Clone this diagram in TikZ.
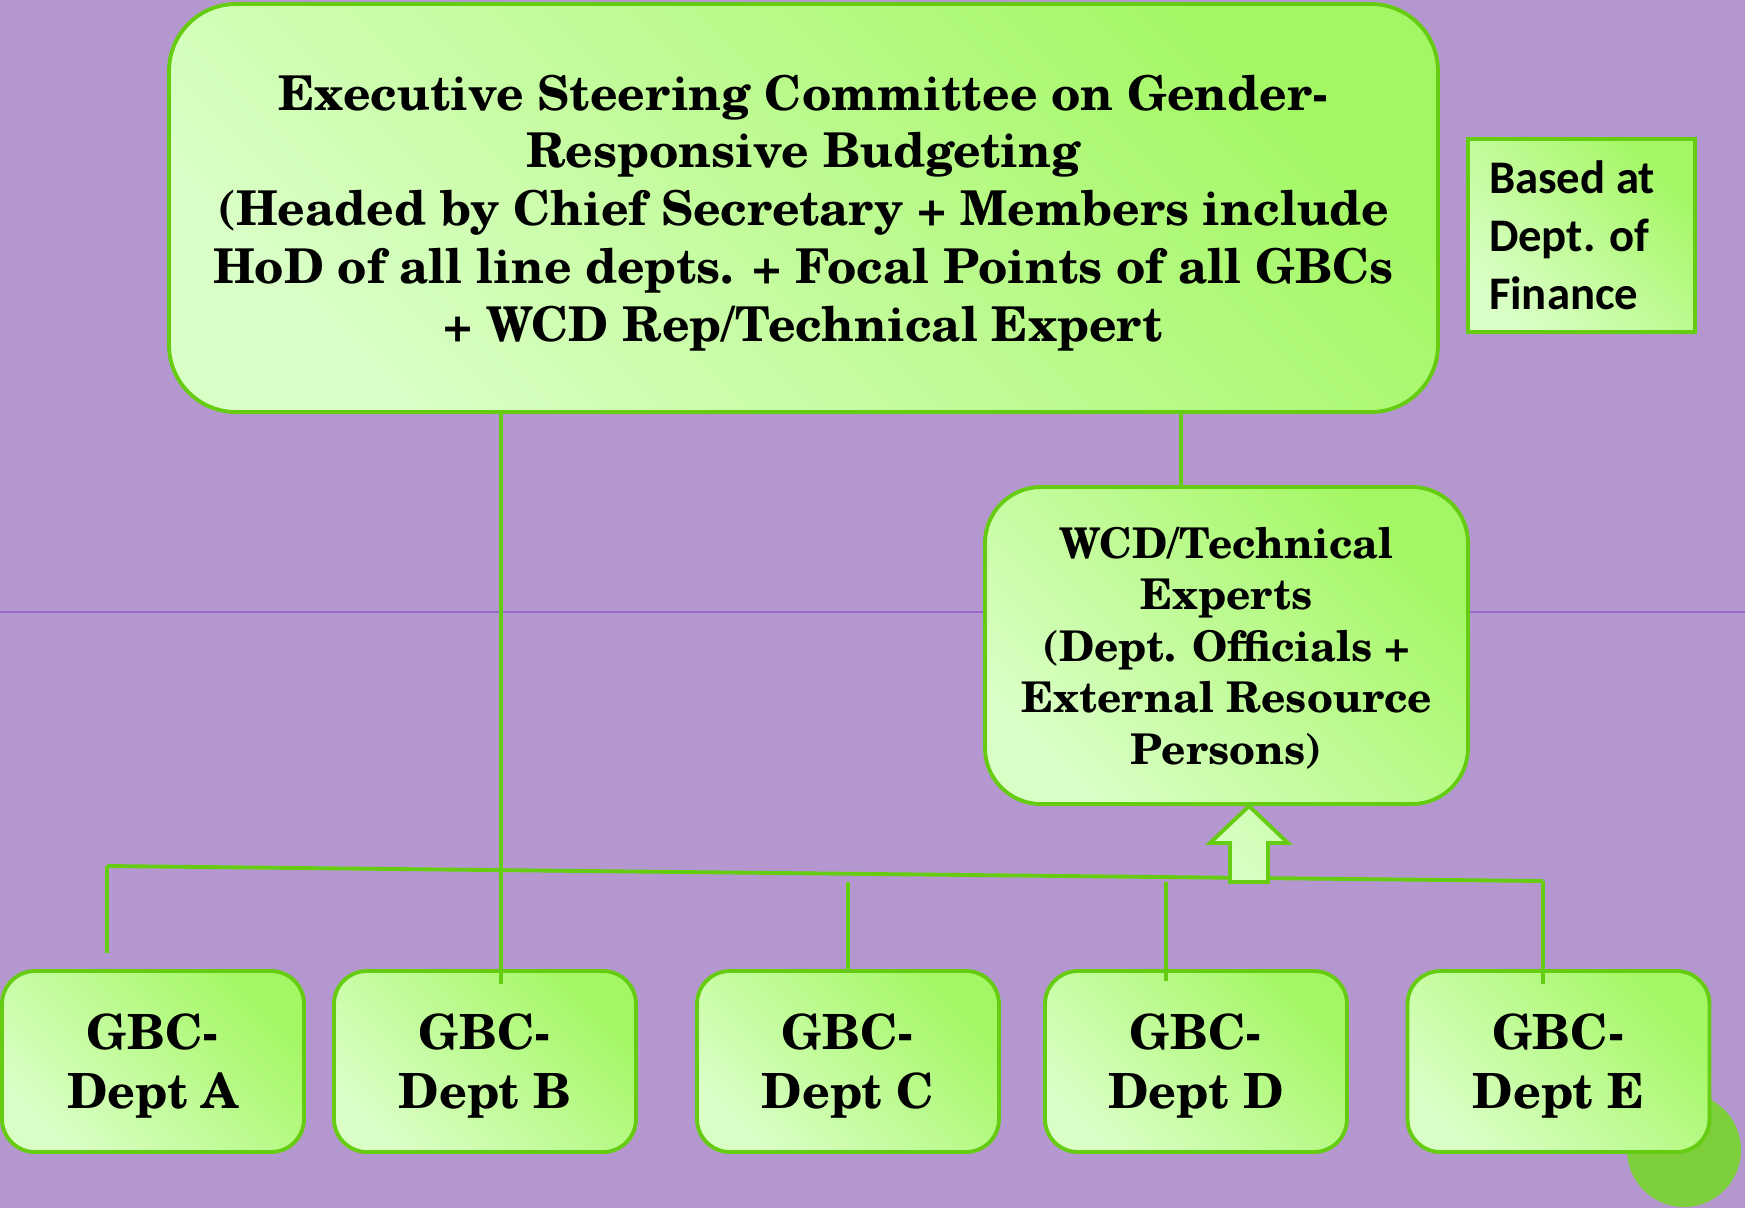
\documentclass[tikz,border=0pt]{standalone}
\usepackage{fontspec}
\setmainfont{TeX Gyre Schola}
\newfontfamily\calibri{Carlito}
\usetikzlibrary{calc}

\definecolor{bgpurple}{RGB}{181,151,208}
\definecolor{rulepurple}{RGB}{152,104,202}
\definecolor{edgegreen}{RGB}{102,204,17}
\definecolor{lightgreen}{RGB}{218,255,198}
\definecolor{deepgreen}{RGB}{164,247,100}
\definecolor{dotgreen}{RGB}{124,206,58}

\tikzset{
  box/.style={draw=edgegreen, line width=1.1pt, top color=deepgreen, bottom color=lightgreen, shading angle=-45, align=center, inner sep=0pt},
  gbc/.style={box, rounded corners=0.33cm, minimum width=3.02cm, minimum height=1.81cm, text depth=0pt, font=\fontsize{13.8}{16.8}\selectfont\bfseries},
  link/.style={edgegreen, line width=1.1pt},
}

\begin{document}
\begin{tikzpicture}
	\useasboundingbox (0,0) rectangle (17.45,-12.08);
	\fill[bgpurple] (0,0) rectangle (17.45,-12.08);
	\draw[rulepurple, line width=0.4pt] (0,-6.12) -- (17.45,-6.12);
	\fill[dotgreen] (16.84,-11.50) circle (0.57);

	% committee, finance note and experts
	\node[box, rounded corners=0.67cm, minimum width=12.69cm, minimum height=4.08cm, text depth=0pt, font=\fontsize{13.65}{16.45}\selectfont\bfseries] (esc) at (8.035,-2.08)
		{Executive Steering Committee on Gender-\\Responsive Budgeting\\(Headed by Chief Secretary + Members include\\HoD of all line depts. + Focal Points of all GBCs\\+ WCD Rep/Technical Expert};
	\node[box, align=flush left, text width=1.85cm, inner xsep=0.21cm, minimum height=1.93cm, font=\calibri\fontsize{13.3}{16.5}\selectfont\bfseries] (fin) at (15.815,-2.355)
		{Based at\\Dept. of\\Finance};
	\node[box, rounded corners=0.56cm, minimum width=4.83cm, minimum height=3.17cm, text depth=0pt, font=\fontsize{12.05}{14.65}\selectfont\bfseries] (wcd) at (12.265,-6.455)
		{WCD/Technical\\Experts\\(Dept. Officials +\\External Resource\\Persons)};

	% departmental GBCs
	\node[gbc] (gbcA) at (1.53,-10.615) {GBC-\\Dept A};
	\node[gbc] (gbcB) at (4.85,-10.615) {GBC-\\Dept B};
	\node[gbc] (gbcC) at (8.48,-10.615) {GBC-\\Dept C};
	\node[gbc] (gbcD) at (11.96,-10.615) {GBC-\\Dept D};
	\node[gbc] (gbcE) at (15.585,-10.615) {GBC-\\Dept E};

	\coordinate (busL) at (1.07,-8.66);
	\coordinate (busR) at (15.43,-8.81);
	\coordinate (tapC) at (8.48,-8.82);
	\coordinate (tapD) at (11.66,-8.82);

	\draw[link] ($(wcd.north)+(-0.455,0)$) -- ($(wcd.north |- esc.south)+(-0.455,0)$);
	\draw[link] (busL) -- (busR);
	\draw[link, shorten >=1.6mm] (busL) -- (busL |- gbcA.north);
	\draw[link, shorten >=-1.5mm] ($(esc.south -| gbcB.north)+(0.16,0)$) -- ($(gbcB.north)+(0.16,0)$);
	\draw[link] (tapC) -- (gbcC.north);
	\draw[link, shorten >=-1.2mm] (tapD) -- (tapD |- gbcD.north);
	\draw[link, shorten >=-1.5mm] (busR) -- (busR |- gbcE.north);

	% block arrow up to the experts
	\draw[draw=edgegreen, line width=1.1pt, top color=lightgreen!80!deepgreen, bottom color=lightgreen, shading angle=-45]
		(12.30,-8.82) -- (12.30,-8.43) -- (12.10,-8.43) -- (12.49,-8.06) -- (12.88,-8.43) -- (12.68,-8.43) -- (12.68,-8.82) -- cycle;
\end{tikzpicture}
\end{document}
